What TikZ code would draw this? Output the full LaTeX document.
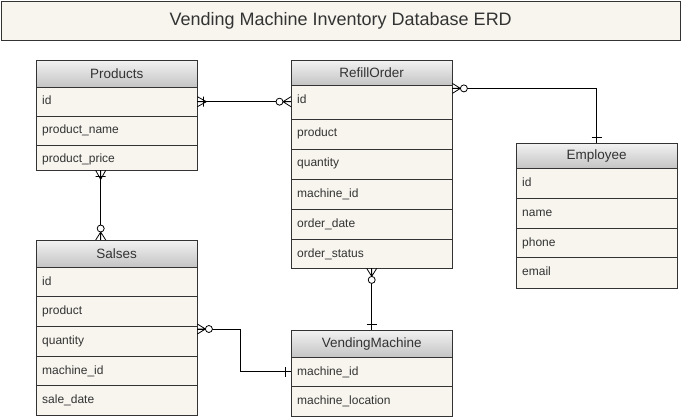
\documentclass[tikz,border=0pt]{standalone}
\usepackage{fontspec}
\setmainfont{Liberation Sans}
\usetikzlibrary{calc}
\definecolor{rowbg}{HTML}{F7F5EE}
\definecolor{bordc}{HTML}{333333}
\definecolor{txtc}{HTML}{333333}
\definecolor{hdtop}{HTML}{F2F2F2}
\definecolor{hdbot}{HTML}{C4C4C4}
\tikzset{
  hdrbox/.style={draw=bordc, top color=hdtop, bottom color=hdbot, minimum width=161pt, anchor=north west, inner sep=0pt, font=\fontsize{13.5}{15}\selectfont, text=txtc},
  rowbox/.style={draw=bordc, fill=rowbg, minimum width=161pt, anchor=north west, inner sep=0pt},
  rowtext/.style={anchor=base west, inner sep=0pt, font=\fontsize{12}{14}\selectfont, text=txtc},
  conn/.style={draw=black, line width=1pt},
  endmark/.style={draw=black, line width=0.8pt},
  zmany/.pic={\draw[endmark] (0,-5) -- (8,0) -- (0,5) (0,0) -- (8,0); \draw[endmark, fill=white] (11.5,0) circle[radius=3.5pt];},
  omany/.pic={\draw[endmark] (0,-5) -- (9,0) -- (0,5) (0,0) -- (9,0) (6,-5) -- (6,5);},
  onebar/.pic={\draw[endmark] (6,-5) -- (6,5);}
}
\newcommand\erow[5]{%
  \node[rowbox, minimum height=#4pt] (#1) at (#2,#3) {};
  \node[rowtext] (#1t) at ([xshift=6pt,yshift=-18pt]#1.north west) {#5};}
\begin{document}
\begin{tikzpicture}[x=1pt,y=-1pt]
\useasboundingbox (0,0) rectangle (681,420);
% title
\node[draw=bordc, fill=rowbg, minimum width=679pt, minimum height=39pt, anchor=north west, inner sep=0pt, text=txtc, font=\fontsize{18}{20}\selectfont] (title) at (1,1) {Vending Machine Inventory Database ERD};
% Products
\node[hdrbox, minimum height=27pt] (ph) at (36,60) {Products};
\erow{pid}{36}{87}{29}{id}
\erow{pname}{36}{116}{29}{product\_name}
\erow{pprice}{36}{145}{25}{product\_price}
% RefillOrder
\node[hdrbox, minimum height=25pt] (rh) at (291,60) {RefillOrder};
\erow{rid}{291}{85}{34}{id}
\erow{rprod}{291}{119}{30}{product}
\erow{rqty}{291}{149}{30}{quantity}
\erow{rmid}{291}{179}{30}{machine\_id}
\erow{rdate}{291}{209}{30}{order\_date}
\erow{rstatus}{291}{239}{29}{order\_status}
% Employee
\node[hdrbox, minimum height=25pt] (eh) at (516,143) {Employee};
\erow{eid}{516}{168}{30}{id}
\erow{ename}{516}{198}{30}{name}
\erow{ephone}{516}{228}{29}{phone}
\erow{email}{516}{257}{31}{email}
% Salses
\node[hdrbox, minimum height=27pt] (sh) at (36,240) {Salses};
\erow{sid}{36}{267}{29}{id}
\erow{sprod}{36}{296}{30}{product}
\erow{squant}{36}{326}{30}{quantity}
\erow{smid}{36}{356}{29}{machine\_id}
\erow{sdate}{36}{385}{30}{sale\_date}
% VendingMachine
\node[hdrbox, minimum height=27pt] (vh) at (291,330) {VendingMachine};
\erow{vmid}{291}{357}{29}{machine\_id}
\erow{vloc}{291}{386}{30}{machine\_location}
% connectors
% Products - RefillOrder
\draw[conn] (pid.east) -- (pid.east -| rid.west);
\path (pid.east) pic{omany};
\path (pid.east -| rid.west) pic[rotate=180]{zmany};
% RefillOrder - Employee
\coordinate (c2) at ([yshift=-3pt]rh.south east);
\draw[conn] (c2) -| (eh.north);
\path (c2) pic{zmany};
\path (eh.north) pic[rotate=90]{onebar};
% Products - Salses
\coordinate (c3a) at ([xshift=-16pt]pprice.south);
\coordinate (c3b) at ([xshift=-16pt]sh.north);
\draw[conn] (c3a) -- (c3b);
\path (c3a) pic[rotate=-90]{omany};
\path (c3b) pic[rotate=90]{zmany};
% RefillOrder - VendingMachine
\draw[conn] (rstatus.south) -- (vh.north);
\path (rstatus.south) pic[rotate=-90]{zmany};
\path (vh.north) pic[rotate=90]{onebar};
% Salses - VendingMachine
\coordinate (c5) at ([yshift=-3pt]squant.north east);
\draw[conn] (c5) -- ++(43,0) |- (vmid.west);
\path (c5) pic{zmany};
\path (vmid.west) pic[rotate=180]{onebar};
\end{tikzpicture}
\end{document}
